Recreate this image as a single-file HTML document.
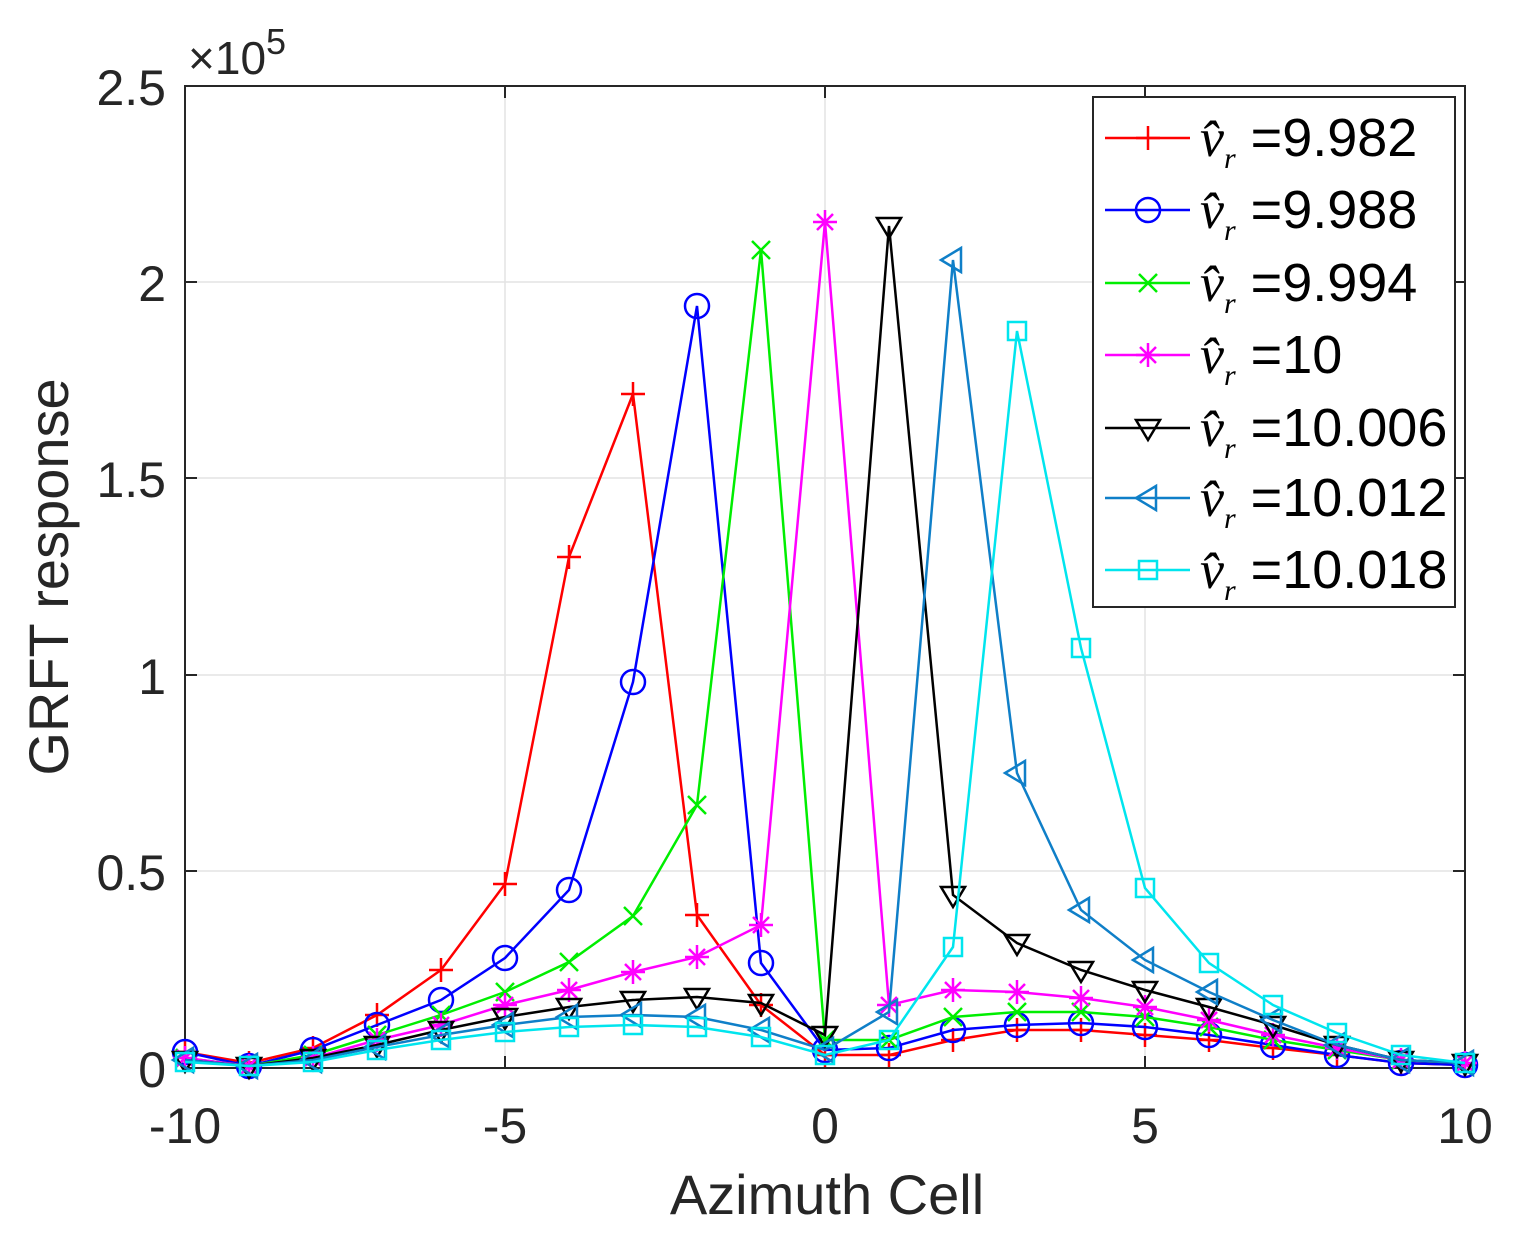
<!DOCTYPE html>
<html><head><meta charset="utf-8"><style>body{margin:0;background:#fff}svg{display:block}</style></head>
<body>
<svg id="s" width="1535" height="1246" viewBox="0 0 1535 1246" xmlns="http://www.w3.org/2000/svg" font-family="Liberation Sans, sans-serif">
<rect width="1535" height="1246" fill="#fff"/>
<g stroke="#e3e3e3" stroke-width="1.5">
<line x1="505" y1="86" x2="505" y2="1068"/><line x1="825" y1="86" x2="825" y2="1068"/><line x1="1145" y1="86" x2="1145" y2="1068"/>
<line x1="185" y1="871" x2="1465" y2="871"/><line x1="185" y1="675" x2="1465" y2="675"/><line x1="185" y1="478" x2="1465" y2="478"/><line x1="185" y1="282" x2="1465" y2="282"/>
</g>
<rect x="185" y="86" width="1280" height="982" fill="none" stroke="#262626" stroke-width="2"/>
<g stroke="#262626" stroke-width="2">
<line x1="505" y1="1068" x2="505" y2="1056"/><line x1="825" y1="1068" x2="825" y2="1056"/><line x1="1145" y1="1068" x2="1145" y2="1056"/>
<line x1="505" y1="86" x2="505" y2="98"/><line x1="825" y1="86" x2="825" y2="98"/><line x1="1145" y1="86" x2="1145" y2="98"/>
<line x1="185" y1="871" x2="197" y2="871"/><line x1="185" y1="675" x2="197" y2="675"/><line x1="185" y1="478" x2="197" y2="478"/><line x1="185" y1="282" x2="197" y2="282"/>
<line x1="1465" y1="871" x2="1453" y2="871"/><line x1="1465" y1="675" x2="1453" y2="675"/><line x1="1465" y1="478" x2="1453" y2="478"/><line x1="1465" y1="282" x2="1453" y2="282"/>
</g>
<g font-size="50" fill="#262626" text-anchor="end">
<text x="166" y="1087">0</text><text x="166" y="890">0.5</text><text x="166" y="694">1</text><text x="166" y="497">1.5</text><text x="166" y="301">2</text><text x="166" y="105">2.5</text>
</g>
<g font-size="50" fill="#262626" text-anchor="middle">
<text x="185" y="1143">-10</text><text x="505" y="1143">-5</text><text x="825" y="1143">0</text><text x="1145" y="1143">5</text><text x="1465" y="1143">10</text>
<text x="827" y="1214" font-size="56">Azimuth Cell</text>
<text transform="translate(68,577) rotate(-90)" font-size="56">GRFT response</text>
</g>
<text x="188" y="74" font-size="46" fill="#262626">×10<tspan font-size="36" dy="-20">5</tspan></text>
<g id="series"></g>
<rect x="1093" y="97" width="362" height="510" fill="#fff" stroke="#262626" stroke-width="2"/>
<g id="leg"></g>
<g font-size="54" fill="#000">
<text x="1200" y="156"><tspan font-family="Liberation Serif, serif" font-style="italic">v̂</tspan><tspan font-family="Liberation Serif, serif" font-style="italic" font-size="30" dy="12">r</tspan><tspan dy="-12"> =9.982</tspan></text>
<text x="1200" y="228"><tspan font-family="Liberation Serif, serif" font-style="italic">v̂</tspan><tspan font-family="Liberation Serif, serif" font-style="italic" font-size="30" dy="12">r</tspan><tspan dy="-12"> =9.988</tspan></text>
<text x="1200" y="301"><tspan font-family="Liberation Serif, serif" font-style="italic">v̂</tspan><tspan font-family="Liberation Serif, serif" font-style="italic" font-size="30" dy="12">r</tspan><tspan dy="-12"> =9.994</tspan></text>
<text x="1200" y="373"><tspan font-family="Liberation Serif, serif" font-style="italic">v̂</tspan><tspan font-family="Liberation Serif, serif" font-style="italic" font-size="30" dy="12">r</tspan><tspan dy="-12"> =10</tspan></text>
<text x="1200" y="446"><tspan font-family="Liberation Serif, serif" font-style="italic">v̂</tspan><tspan font-family="Liberation Serif, serif" font-style="italic" font-size="30" dy="12">r</tspan><tspan dy="-12"> =10.006</tspan></text>
<text x="1200" y="516"><tspan font-family="Liberation Serif, serif" font-style="italic">v̂</tspan><tspan font-family="Liberation Serif, serif" font-style="italic" font-size="30" dy="12">r</tspan><tspan dy="-12"> =10.012</tspan></text>
<text x="1200" y="588"><tspan font-family="Liberation Serif, serif" font-style="italic">v̂</tspan><tspan font-family="Liberation Serif, serif" font-style="italic" font-size="30" dy="12">r</tspan><tspan dy="-12"> =10.018</tspan></text>
</g>
</svg>
<script>
const S=[
["#ff0000","+",[1052,1063,1048,1015,970,884,557,394,915,1005,1055,1055,1040,1030,1030,1035,1040,1048,1055,1063,1065]],
["#0000ff","o",[1052,1066,1050,1025,1000,958,890,682,306,963,1050,1048,1030,1025,1023,1027,1035,1045,1055,1063,1065]],
["#00ee00","x",[1058,1066,1055,1035,1015,992,962,916,805,250,1040,1040,1017,1012,1012,1017,1027,1040,1050,1060,1063]],
["#ff00ff","*",[1058,1066,1058,1040,1025,1005,990,972,957,925,222,1005,990,992,998,1007,1020,1035,1048,1060,1063]],
["#000000","v",[1060,1066,1058,1045,1030,1017,1007,1000,997,1003,1035,226,895,943,970,990,1007,1025,1045,1060,1063]],
["#0f7fc8","<",[1060,1066,1060,1047,1035,1025,1017,1015,1017,1030,1050,1012,260,773,910,960,992,1020,1045,1060,1063]],
["#00e5ee","s",[1062,1066,1062,1050,1040,1032,1027,1025,1027,1037,1055,1040,947,331,648,888,963,1005,1033,1055,1063]]];
const ns="http://www.w3.org/2000/svg";
function el(p,t,a){const e=document.createElementNS(ns,t);for(const k in a)e.setAttribute(k,a[k]);p.appendChild(e);return e;}
function mk(g,x,y,m,c){const r=12,a={stroke:c,"stroke-width":2.5,fill:"none"};
if(m=="+"){el(g,"path",{...a,d:`M${x-r} ${y}H${x+r}M${x} ${y-r}V${y+r}`});}
else if(m=="o"){el(g,"circle",{...a,cx:x,cy:y,r:r});}
else if(m=="x"){el(g,"path",{...a,d:`M${x-9} ${y-9}L${x+9} ${y+9}M${x-9} ${y+9}L${x+9} ${y-9}`});}
else if(m=="*"){el(g,"path",{...a,d:`M${x-r} ${y}H${x+r}M${x} ${y-r}V${y+r}M${x-8} ${y-8}L${x+8} ${y+8}M${x-8} ${y+8}L${x+8} ${y-8}`});}
else if(m=="v"){el(g,"path",{...a,d:`M${x-12} ${y-8}H${x+12}L${x} ${y+12}Z`});}
else if(m=="<"){el(g,"path",{...a,d:`M${x+8} ${y-12}V${y+12}L${x-12} ${y}Z`});}
else if(m=="s"){el(g,"rect",{...a,x:x-9,y:y-9,width:18,height:18});}}
const G=document.getElementById("series"),L=document.getElementById("leg");
S.forEach(([c,m,ys])=>{const pts=ys.map((y,i)=>[185+64*i,y]);
el(G,"polyline",{points:pts.map(p=>p.join(",")).join(" "),fill:"none",stroke:c,"stroke-width":2.5});
pts.forEach(p=>mk(G,p[0],p[1],m,c));});
const LY=[138,210,283,355,428,498,570];
S.forEach(([c,m],i)=>{el(L,"line",{x1:1105,x2:1190,y1:LY[i],y2:LY[i],stroke:c,"stroke-width":2.5});mk(L,1148,LY[i],m,c);});
</script>
</body></html>
